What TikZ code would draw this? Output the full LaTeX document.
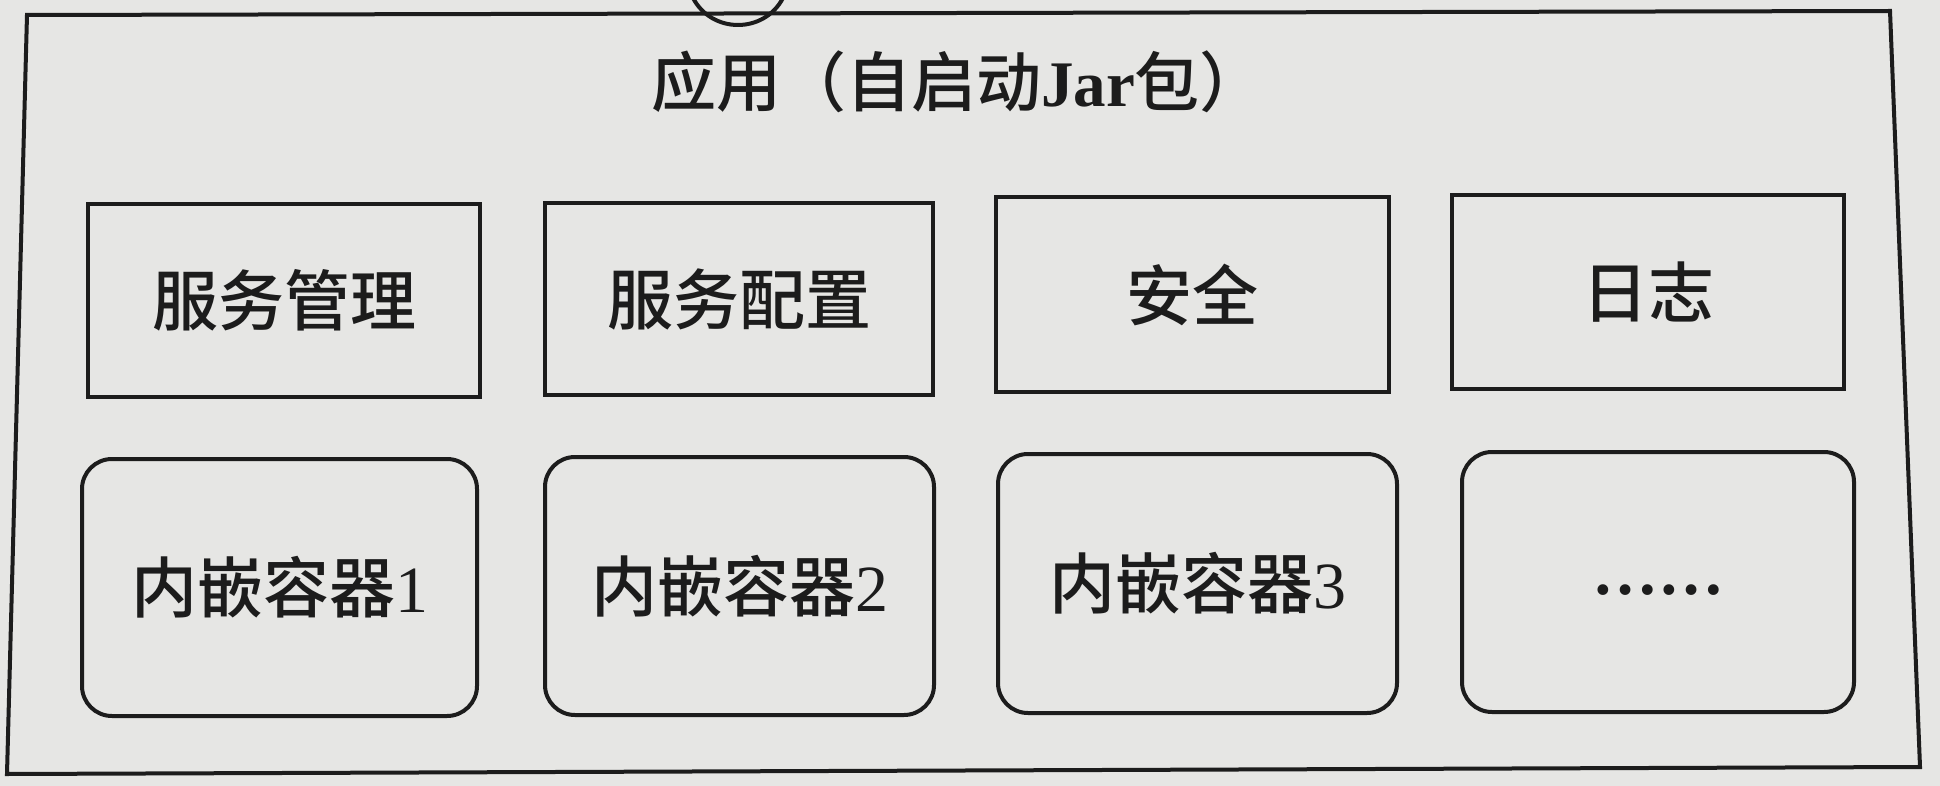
\documentclass[tikz,border=0pt]{standalone}
\usepackage{fontspec}
\setmainfont{Liberation Serif}
\newfontfamily\cjk{Noto Sans CJK SC}[UprightFont=* Medium]
\definecolor{paper}{HTML}{E6E6E4}
\definecolor{ink}{HTML}{1C1C1C}
\begin{document}
\begin{tikzpicture}[x=1pt,y=-1pt,
  sqbox/.style={draw=ink, line width=4pt, rectangle, inner sep=0pt, outer sep=0pt,
    font=\fontsize{66}{66}\selectfont, text=ink},
  rdbox/.style={sqbox, rounded corners=30pt},
  frameline/.style={draw=ink, line width=4pt, line join=miter}]
\fill[paper] (0,0) rectangle (1940,786);
\useasboundingbox (0,0) rectangle (1940,786);
% outer frame (photographed with slight perspective)
\coordinate (ftl) at (27,15);
\coordinate (ftr) at (1890,11);
\coordinate (fbr) at (1920,767);
\coordinate (fbl) at (7,774);
\draw[frameline] (ftl) -- (ftr) -- (fbr) -- (fbl) -- cycle;
% partial loop of a shape above the frame
\coordinate (ua) at (693,-2);
\coordinate (ub) at (783,-2);
\draw[draw=ink, line width=4pt] (ua) .. controls (712,34) and (764,34) .. (ub);
% title
\node[text=ink, font=\fontsize{65}{65}\selectfont, inner sep=0pt] (title) at (958,82)
  {{\cjk 应用（自启动}{\bfseries Jar}{\cjk 包）}};
% top row
\node[sqbox, minimum width=392pt, minimum height=193pt] (s1) at (284,300.5) {\cjk 服务管理};
\node[sqbox, minimum width=388pt, minimum height=192pt] (s2) at (739,299) {\cjk 服务配置};
\node[sqbox, minimum width=393pt, minimum height=195pt] (s3) at (1192.5,294.5) {\cjk 安全};
\node[sqbox, minimum width=392pt, minimum height=194pt] (s4) at (1648,292) {\cjk 日志};
% bottom row
\node[rdbox, minimum width=395pt, minimum height=257pt] (c1) at (279.5,587.5) {{\cjk 内嵌容器}1};
\node[rdbox, minimum width=389pt, minimum height=258pt] (c2) at (739.5,586) {{\cjk 内嵌容器}2};
\node[rdbox, minimum width=399pt, minimum height=259pt] (c3) at (1197.5,583.5) {{\cjk 内嵌容器}3};
\node[rdbox, minimum width=392pt, minimum height=260pt] (c4) at (1658,582) {\bfseries\rule{0pt}{26pt}……};
\end{tikzpicture}
\end{document}
